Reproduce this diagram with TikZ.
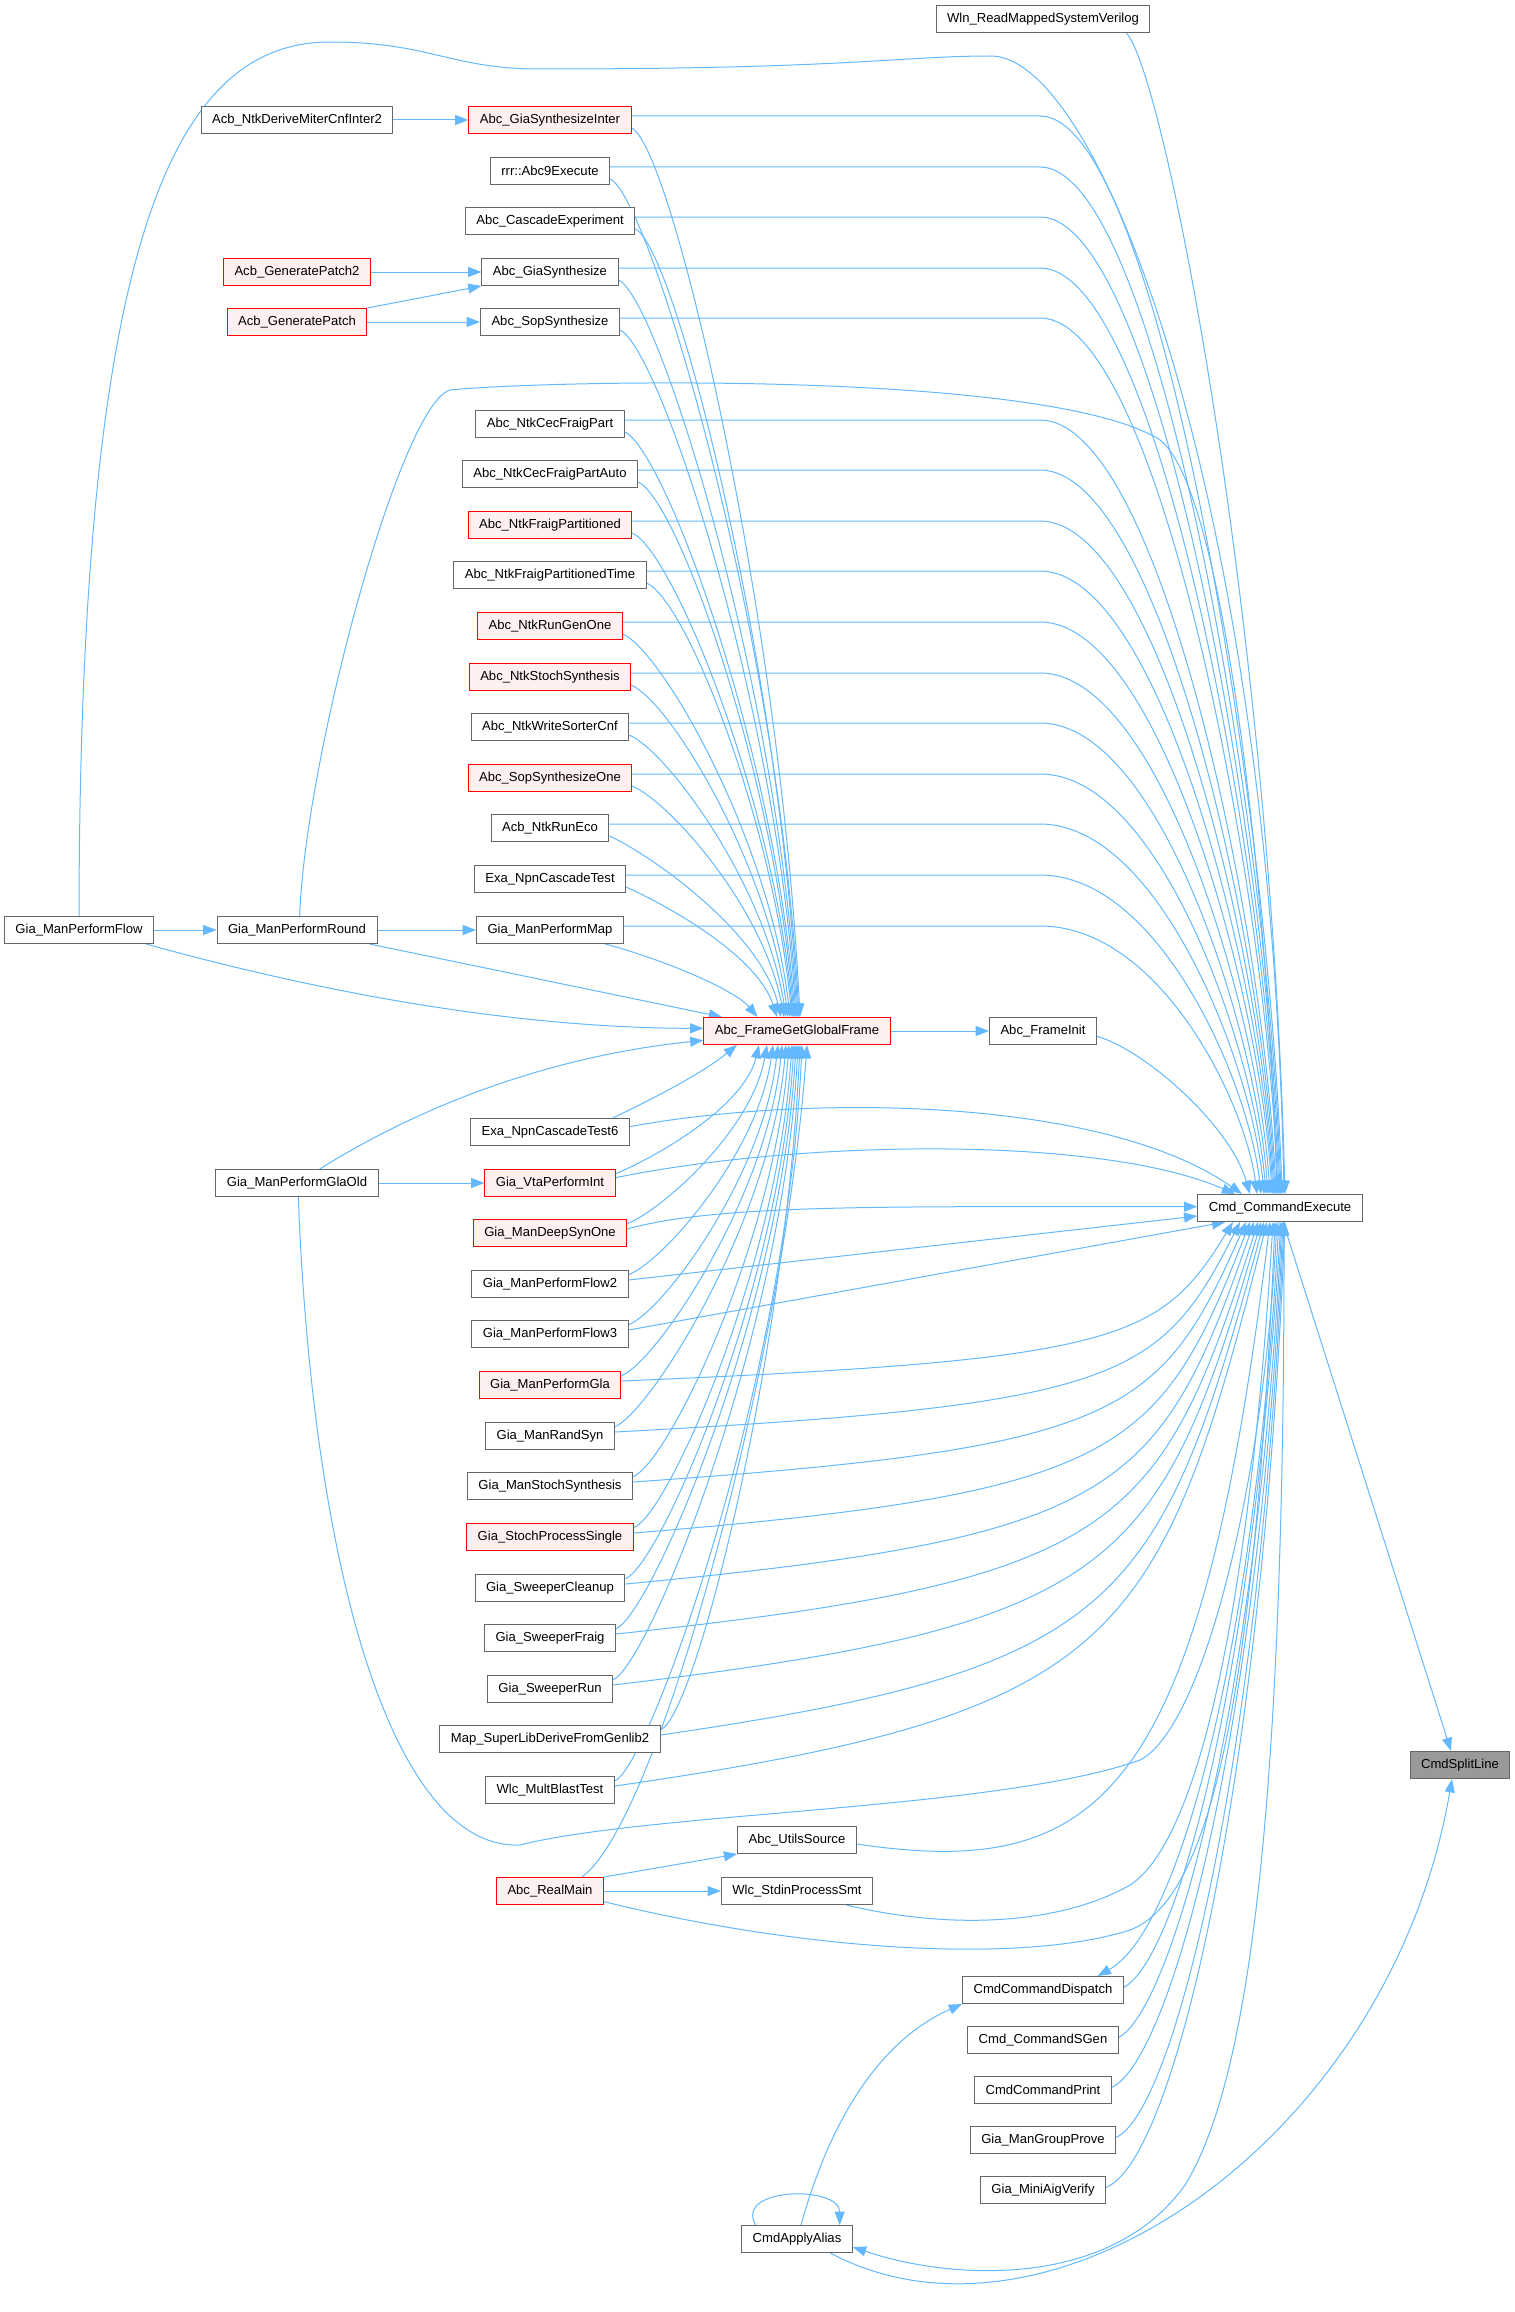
\documentclass[tikz,border=0pt]{standalone}
\usepackage{fontspec}
\setmainfont{Liberation Sans}
\usetikzlibrary{arrows.meta, backgrounds}
\definecolor{callblue}{RGB}{99, 184, 255}
\definecolor{boxgray}{RGB}{102, 102, 102}
\definecolor{rootgray}{RGB}{153, 153, 153}
\definecolor{hotred}{RGB}{255, 0, 0}
\definecolor{hotpink}{RGB}{255, 240, 240}

\begin{document}
\begin{tikzpicture}[x=0.75pt, y=-0.75pt,
  fn/.style={draw=boxgray, fill=white, line width=0.75pt, inner xsep=8.25pt, inner ysep=0pt,
    minimum height=20.25pt, font=\fontsize{9.8}{11}\selectfont},
  fnred/.style={fn, draw=hotred, fill=hotpink},
  fnroot/.style={fn, fill=rootgray},
  call/.style={color=callblue, line width=0.75pt, -{Triangle[length=10pt, width=7.5pt]}}]
  \useasboundingbox (0,0) rectangle (1515,2312);

  % callers on the far left
  \node[fn] (flow) at (79,930) {Gia\_ManPerformFlow};
  \node[fn] (miter) at (297,120) {Acb\_NtkDeriveMiterCnfInter2};
  \node[fnred] (patchtwo) at (297,272) {Acb\_GeneratePatch2};
  \node[fnred] (patch) at (297,322) {Acb\_GeneratePatch};
  \node[fn] (round) at (297,930) {Gia\_ManPerformRound};
  \node[fn] (glaold) at (297,1183) {Gia\_ManPerformGlaOld};

  % middle column, above Abc_FrameGetGlobalFrame
  \node[fnred] (synthinter) at (550,120) {Abc\_GiaSynthesizeInter};
  \node[fn] (abcnine) at (550,171) {rrr::Abc9Execute};
  \node[fn] (cascade) at (550,221) {Abc\_CascadeExperiment};
  \node[fn] (giasynth) at (550,272) {Abc\_GiaSynthesize};
  \node[fn] (sopsynth) at (550,322) {Abc\_SopSynthesize};
  \node[fn] (cecpart) at (550,424) {Abc\_NtkCecFraigPart};
  \node[fn] (cecauto) at (550,474) {Abc\_NtkCecFraigPartAuto};
  \node[fnred] (fraigpart) at (550,525) {Abc\_NtkFraigPartitioned};
  \node[fn] (fraigtime) at (550,575) {Abc\_NtkFraigPartitionedTime};
  \node[fnred] (rungen) at (550,626) {Abc\_NtkRunGenOne};
  \node[fnred] (ntkstoch) at (550,677) {Abc\_NtkStochSynthesis};
  \node[fn] (sorter) at (550,727) {Abc\_NtkWriteSorterCnf};
  \node[fnred] (sopone) at (550,778) {Abc\_SopSynthesizeOne};
  \node[fn] (runeco) at (550,828) {Acb\_NtkRunEco};
  \node[fn] (npntest) at (550,879) {Exa\_NpnCascadeTest};
  \node[fn] (permap) at (550,930) {Gia\_ManPerformMap};

  % middle column, below
  \node[fn] (npntest6) at (550,1132) {Exa\_NpnCascadeTest6};
  \node[fnred] (vta) at (550,1183) {Gia\_VtaPerformInt};
  \node[fnred] (deepsyn) at (550,1233) {Gia\_ManDeepSynOne};
  \node[fn] (flowtwo) at (550,1284) {Gia\_ManPerformFlow2};
  \node[fn] (flowthree) at (550,1334) {Gia\_ManPerformFlow3};
  \node[fnred] (perfgla) at (550,1385) {Gia\_ManPerformGla};
  \node[fn] (randsyn) at (550,1436) {Gia\_ManRandSyn};
  \node[fn] (manstoch) at (550,1486) {Gia\_ManStochSynthesis};
  \node[fnred] (stochsingle) at (550,1537) {Gia\_StochProcessSingle};
  \node[fn] (swcleanup) at (550,1588) {Gia\_SweeperCleanup};
  \node[fn] (swfraig) at (550,1638) {Gia\_SweeperFraig};
  \node[fn] (swrun) at (550,1689) {Gia\_SweeperRun};
  \node[fn] (superlib) at (550,1739) {Map\_SuperLibDeriveFromGenlib2};
  \node[fn] (multblast) at (550,1790) {Wlc\_MultBlastTest};
  \node[fnred] (realmain) at (550,1891) {Abc\_RealMain};

  \node[fnred] (frame) at (797,1031) {Abc\_FrameGetGlobalFrame};
  \node[fn] (utils) at (797,1840) {Abc\_UtilsSource};
  \node[fn] (stdin) at (797,1891) {Wlc\_StdinProcessSmt};
  \node[fn] (alias) at (797,2239) {CmdApplyAlias};

  \node[fn] (wln) at (1043,19) {Wln\_ReadMappedSystemVerilog};
  \node[fn] (init) at (1043,1031) {Abc\_FrameInit};
  \node[fn] (dispatch) at (1043,1990) {CmdCommandDispatch};
  \node[fn] (sgen) at (1043,2040) {Cmd\_CommandSGen};
  \node[fn] (print) at (1043,2090) {CmdCommandPrint};
  \node[fn] (prove) at (1043,2140) {Gia\_ManGroupProve};
  \node[fn] (verify) at (1043,2190) {Gia\_MiniAigVerify};

  \node[fn] (cmd) at (1280,1208) {Cmd\_CommandExecute};
  \node[fnroot] (split) at (1460,1765) {CmdSplitLine};

  \coordinate (turn) at (1040,0);

  \begin{scope}[on background layer]
    % short calls
    \draw[call] (miter.east) -- (synthinter.west);
    \draw[call] (patchtwo.east) -- (giasynth.west);
    \draw[call] (patch.north east) -- (giasynth.south west);
    \draw[call] (patch.east) -- (sopsynth.west);
    \draw[call] (flow.east) -- (round.west);
    \draw[call] (round.east) -- (permap.west);
    \draw[call] (glaold.east) -- (vta.west);
    \draw[call] (realmain.east) -- (stdin.west);
    \draw[call] (realmain.north east) -- (utils.south west);
    \draw[call] (frame.east) -- (init.west);

    % upper fan into Cmd_CommandExecute
    \draw[call] ([xshift=-18pt]wln.south east) .. controls (1165,75) and (1270,620) .. ([xshift=3.75pt]cmd.north);
    \draw[call] (flow.north) .. controls (80,250) and (170,42) .. (330,42)
      .. controls (430,42) and (450,69) .. (540,69) .. controls (850,69) and (900,56) .. (991,56)
      .. controls (1100,56) and (1270,500) .. ([xshift=3pt]cmd.north);
    \draw[call] ([xshift=2pt]round.north) .. controls (305,760) and (400,405) .. (450,390)
      .. controls (550,380) and (1050,370) .. (1160,440) .. controls (1225,490) and (1268,900) .. ([xshift=-2.25pt]cmd.north);
    \draw[call] ([yshift=3pt]synthinter.east) -- ([yshift=3pt]synthinter.east -| turn) .. controls +(120,0) and +(-12,-376) .. ([xshift=1.5pt]cmd.north);
    \draw[call] ([yshift=3pt]abcnine.east) -- ([yshift=3pt]abcnine.east -| turn) .. controls +(120,0) and +(-12,-358) .. ([xshift=0.75pt]cmd.north);
    \draw[call] ([yshift=3pt]cascade.east) -- ([yshift=3pt]cascade.east -| turn) .. controls +(120,0) and +(-12,-341) .. (cmd.north);
    \draw[call] ([yshift=3pt]giasynth.east) -- ([yshift=3pt]giasynth.east -| turn) .. controls +(120,0) and +(-12,-323) .. ([xshift=-0.75pt]cmd.north);
    \draw[call] ([yshift=3pt]sopsynth.east) -- ([yshift=3pt]sopsynth.east -| turn) .. controls +(120,0) and +(-12,-305) .. ([xshift=-1.5pt]cmd.north);
    \draw[call] ([yshift=3pt]cecpart.east) -- ([yshift=3pt]cecpart.east -| turn) .. controls +(120,0) and +(-12,-270) .. ([xshift=-3pt]cmd.north);
    \draw[call] ([yshift=3pt]cecauto.east) -- ([yshift=3pt]cecauto.east -| turn) .. controls +(120,0) and +(-12,-252) .. ([xshift=-3.75pt]cmd.north);
    \draw[call] ([yshift=3pt]fraigpart.east) -- ([yshift=3pt]fraigpart.east -| turn) .. controls +(120,0) and +(-12,-234) .. ([xshift=-4.5pt]cmd.north);
    \draw[call] ([yshift=3pt]fraigtime.east) -- ([yshift=3pt]fraigtime.east -| turn) .. controls +(120,0) and +(-12,-217) .. ([xshift=-5.25pt]cmd.north);
    \draw[call] ([yshift=3pt]rungen.east) -- ([yshift=3pt]rungen.east -| turn) .. controls +(120,0) and +(-12,-199) .. ([xshift=-6pt]cmd.north);
    \draw[call] ([yshift=3pt]ntkstoch.east) -- ([yshift=3pt]ntkstoch.east -| turn) .. controls +(120,0) and +(-12,-181) .. ([xshift=-7.5pt]cmd.north);
    \draw[call] ([yshift=3pt]sorter.east) -- ([yshift=3pt]sorter.east -| turn) .. controls +(120,0) and +(-12,-163) .. ([xshift=-9pt]cmd.north);
    \draw[call] ([yshift=3pt]sopone.east) -- ([yshift=3pt]sopone.east -| turn) .. controls +(120,0) and +(-12,-146) .. ([xshift=-10.5pt]cmd.north);
    \draw[call] ([yshift=3pt]runeco.east) -- ([yshift=3pt]runeco.east -| turn) .. controls +(120,0) and +(-12,-128) .. ([xshift=-12pt]cmd.north);
    \draw[call] ([yshift=3pt]npntest.east) -- ([yshift=3pt]npntest.east -| turn) .. controls +(120,0) and +(-12,-110) .. ([xshift=-14.25pt]cmd.north);
    \draw[call] ([yshift=3pt]permap.east) -- ([yshift=3pt]permap.east -| turn) .. controls +(120,0) and +(-12,-92) .. ([xshift=-17.25pt]cmd.north);
    \draw[call] ([yshift=-4pt]init.east) .. controls (1145,1050) and (1230,1125) .. ([xshift=-22.5pt]cmd.north);
    \draw[call] ([yshift=4pt]npntest6.east) .. controls (800,1095) and (1100,1095) .. ([xshift=-28.5pt]cmd.north);
    \draw[call] ([yshift=4pt]vta.east) .. controls (800,1140) and (1100,1135) .. ([xshift=-33.75pt]cmd.north);

    % upper fan into Abc_FrameGetGlobalFrame
    \draw[call] ([yshift=-6pt]synthinter.east) .. controls +(40,18) and +(-20,-404) .. ([xshift=2.25pt]frame.north);
    \draw[call] ([yshift=-6pt]abcnine.east) .. controls +(40,18) and +(-20,-381) .. ([xshift=1.5pt]frame.north);
    \draw[call] ([yshift=-6pt]cascade.east) .. controls +(40,18) and +(-20,-358) .. ([xshift=0.75pt]frame.north);
    \draw[call] ([yshift=-6pt]giasynth.east) .. controls +(40,18) and +(-20,-335) .. (frame.north);
    \draw[call] ([yshift=-6pt]sopsynth.east) .. controls +(40,18) and +(-20,-313) .. ([xshift=-0.75pt]frame.north);
    \draw[call] ([yshift=-6pt]cecpart.east) .. controls +(40,18) and +(-20,-267) .. ([xshift=-1.5pt]frame.north);
    \draw[call] ([yshift=-6pt]cecauto.east) .. controls +(40,18) and +(-20,-244) .. ([xshift=-2.25pt]frame.north);
    \draw[call] ([yshift=-6pt]fraigpart.east) .. controls +(40,18) and +(-20,-221) .. ([xshift=-3pt]frame.north);
    \draw[call] ([yshift=-6pt]fraigtime.east) .. controls +(40,18) and +(-20,-199) .. ([xshift=-3.75pt]frame.north);
    \draw[call] ([yshift=-6pt]rungen.east) .. controls +(40,18) and +(-20,-176) .. ([xshift=-5.25pt]frame.north);
    \draw[call] ([yshift=-6pt]ntkstoch.east) .. controls +(40,18) and +(-20,-153) .. ([xshift=-6.75pt]frame.north);
    \draw[call] ([yshift=-6pt]sorter.east) .. controls +(40,18) and +(-20,-130) .. ([xshift=-8.25pt]frame.north);
    \draw[call] ([yshift=-6pt]sopone.east) .. controls +(40,18) and +(-20,-107) .. ([xshift=-9.75pt]frame.north);
    \draw[call] ([yshift=-6pt]runeco.east) .. controls +(40,18) and +(-20,-85) .. ([xshift=-12pt]frame.north);
    \draw[call] ([yshift=-6pt]npntest.east) .. controls +(40,18) and +(-20,-62) .. ([xshift=-15pt]frame.north);
    \draw[call] ([xshift=-14pt]permap.south east) .. controls (665,960) and (735,990) .. ([xshift=40.5pt]frame.north west);
    \draw[call] ([xshift=-6pt]round.south east) -- ([xshift=14pt]frame.north west);
    \draw[call] ([xshift=-6pt]flow.south east) .. controls (330,995) and (520,1028) .. ([yshift=2pt]frame.west);
    \draw[call] ([xshift=17pt]glaold.north) .. controls (430,1100) and (560,1055) .. ([yshift=-7pt]frame.west);

    % lower fan into Abc_FrameGetGlobalFrame
    \draw[call] ([xshift=-12.75pt]npntest6.north east) .. controls (650,1100) and (700,1075) .. ([xshift=-45pt]frame.south);
    \draw[call] ([yshift=7pt]vta.east) .. controls +(35,-14) and +(-15,63) .. ([xshift=-28.5pt]frame.south);
    \draw[call] ([yshift=7pt]deepsyn.east) .. controls +(35,-14) and +(-15,85) .. ([xshift=-22.5pt]frame.south);
    \draw[call] ([yshift=7pt]flowtwo.east) .. controls +(35,-14) and +(-15,108) .. ([xshift=-18pt]frame.south);
    \draw[call] ([yshift=7pt]flowthree.east) .. controls +(35,-14) and +(-15,131) .. ([xshift=-14.25pt]frame.south);
    \draw[call] ([yshift=7pt]perfgla.east) .. controls +(35,-14) and +(-15,153) .. ([xshift=-11.25pt]frame.south);
    \draw[call] ([yshift=7pt]randsyn.east) .. controls +(35,-14) and +(-15,176) .. ([xshift=-8.25pt]frame.south);
    \draw[call] ([yshift=7pt]manstoch.east) .. controls +(35,-14) and +(-15,199) .. ([xshift=-6pt]frame.south);
    \draw[call] ([yshift=7pt]stochsingle.east) .. controls +(35,-14) and +(-15,222) .. ([xshift=-3.75pt]frame.south);
    \draw[call] ([yshift=7pt]swcleanup.east) .. controls +(35,-14) and +(-15,245) .. ([xshift=-2.25pt]frame.south);
    \draw[call] ([yshift=7pt]swfraig.east) .. controls +(35,-14) and +(-15,267) .. ([xshift=-0.75pt]frame.south);
    \draw[call] ([yshift=7pt]swrun.east) .. controls +(35,-14) and +(-15,290) .. ([xshift=0.75pt]frame.south);
    \draw[call] ([yshift=7pt]superlib.east) .. controls +(35,-14) and +(-15,313) .. ([xshift=2.25pt]frame.south);
    \draw[call] ([yshift=7pt]multblast.east) .. controls +(35,-14) and +(-15,336) .. ([xshift=3.75pt]frame.south);
    \draw[call] ([xshift=24pt]realmain.north) .. controls (660,1820) and (785,1350) .. ([xshift=7.5pt]frame.south);

    % lower fan into Cmd_CommandExecute
    \draw[call] ([yshift=3pt]deepsyn.east) .. controls (720,1203) and (900,1207) .. ([yshift=1pt]cmd.west);
    \draw[call] ([yshift=3pt]flowtwo.east) -- ([yshift=-6pt]cmd.west);
    \draw[call] ([yshift=3pt]flowthree.east) -- ([xshift=-41pt]cmd.south);
    \draw[call] ([yshift=3pt]perfgla.east) .. controls (1120,1360) and (1160,1341) .. ([xshift=-35.25pt]cmd.south);
    \draw[call] ([yshift=3pt]randsyn.east) .. controls (1120,1405) and (1160,1380) .. ([xshift=-30pt]cmd.south);
    \draw[call] ([yshift=3pt]manstoch.east) .. controls (1120,1448) and (1160,1417) .. ([xshift=-25.5pt]cmd.south);
    \draw[call] ([yshift=3pt]stochsingle.east) .. controls (1120,1493) and (1160,1455) .. ([xshift=-22.5pt]cmd.south);
    \draw[call] ([yshift=3pt]swcleanup.east) .. controls (1120,1537) and (1160,1494) .. ([xshift=-19.5pt]cmd.south);
    \draw[call] ([yshift=3pt]swfraig.east) .. controls (1120,1580) and (1160,1531) .. ([xshift=-16.5pt]cmd.south);
    \draw[call] ([yshift=3pt]swrun.east) .. controls (1120,1625) and (1160,1569) .. ([xshift=-14.25pt]cmd.south);
    \draw[call] ([yshift=3pt]superlib.east) .. controls (1120,1668) and (1160,1607) .. ([xshift=-12pt]cmd.south);
    \draw[call] ([yshift=3pt]multblast.east) .. controls (1120,1713) and (1160,1645) .. ([xshift=-9.75pt]cmd.south);
    \draw[call] ([yshift=-3pt]utils.east) .. controls (1100,1880) and (1200,1800) .. ([xshift=-7.5pt]cmd.south);
    \draw[call] ([xshift=-20pt]stdin.south east) .. controls (950,1930) and (1060,1925) .. (1130,1885)
      .. controls (1200,1840) and (1250,1600) .. ([xshift=-5.25pt]cmd.south);
    \draw[call] ([yshift=-8pt]realmain.east) .. controls (800,1950) and (1020,1965) .. (1130,1930)
      .. controls (1210,1900) and (1255,1700) .. ([xshift=-3.75pt]cmd.south);
    \draw[call] ([xshift=1pt]glaold.south) .. controls (312,1560) and (390,1850) .. (520,1845)
      .. controls (650,1812) and (1000,1810) .. (1140,1760) .. controls (1200,1730) and (1262,1500) .. ([xshift=-2.25pt]cmd.south);
    \draw[call] ([yshift=2pt]dispatch.east) .. controls (1175,1960) and (1250,1700) .. ([xshift=0.75pt]cmd.south);
    \draw[call] ([yshift=2pt]sgen.east) .. controls (1170,2010) and (1255,1720) .. ([xshift=1.5pt]cmd.south);
    \draw[call] ([yshift=2pt]print.east) .. controls (1170,2060) and (1258,1740) .. ([xshift=2.25pt]cmd.south);
    \draw[call] ([yshift=2pt]prove.east) .. controls (1175,2110) and (1260,1760) .. ([xshift=3pt]cmd.south);
    \draw[call] ([yshift=2pt]verify.east) .. controls (1175,2160) and (1262,1780) .. ([xshift=3.75pt]cmd.south);

    % Cmd_CommandExecute, CmdApplyAlias and the root
    \draw[call] ([xshift=-0.75pt]cmd.south) .. controls (1255,1650) and (1180,1930) .. ([xshift=41pt]dispatch.north);
    \draw[call] ([xshift=3pt]cmd.south) .. controls (1285,1800) and (1250,2080) .. (1185,2185)
      .. controls (1110,2290) and (950,2280) .. ([yshift=-6pt]alias.east);
    \draw[call] ([xshift=2.25pt]cmd.south) -- ([xshift=-6.75pt]split.north);
    \draw[call] ([xshift=25pt]alias.south) .. controls (1050,2370) and (1390,2140) .. ([xshift=-6pt]split.south);
    \draw[call] ([xshift=3pt]alias.north) .. controls (830,2120) and (880,2040) .. (dispatch.south west);
    \draw[call] ([xshift=-31pt]alias.north) .. controls +(-22,-38) and +(0,-40) .. ([xshift=32pt]alias.north);
  \end{scope}
\end{tikzpicture}
\end{document}
